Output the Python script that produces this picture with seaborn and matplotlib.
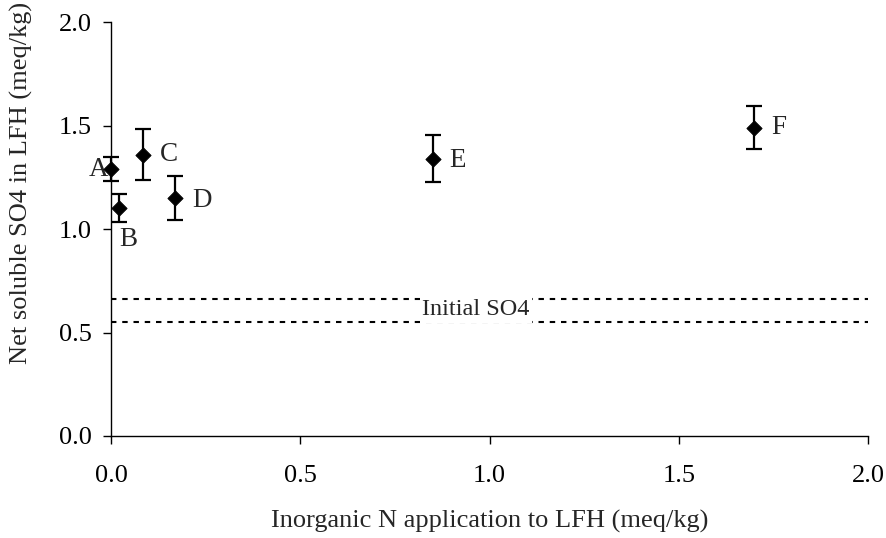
import matplotlib
matplotlib.use("Agg")
import matplotlib.pyplot as plt
import seaborn as sns
import pandas as pd

# Treatment data
labels = ["A", "B", "C", "D", "E", "F"]
n_applied = [0.0, 0.02, 0.085, 0.17, 0.85, 1.70]
so4 = [1.29, 1.10, 1.36, 1.15, 1.34, 1.49]
so4_err = [0.06, 0.067, 0.125, 0.105, 0.115, 0.105]
initial_so4 = [0.55, 0.66]

x_ticks = [0.0, 0.5, 1.0, 1.5, 2.0]
y_ticks = [0.0, 0.5, 1.0, 1.5, 2.0]

df = pd.DataFrame({"label": labels, "n": n_applied, "so4": so4, "err": so4_err})

sns.set_style("ticks")
plt.rcParams["font.family"] = ["Liberation Serif", "DejaVu Serif"]

fig = plt.figure(figsize=(8.86, 5.38), dpi=100)
ax = fig.add_axes([0.1253, 0.1896, 0.8544, 0.7694])

# Initial SO4 range
for yv in initial_so4:
    ax.axhline(yv, color="black", lw=1.5, ls=(0, (2.6, 2.8)), zorder=1)
ax.text(0.964, 0.612, "Initial SO4", ha="center", va="center", fontsize=17.5,
        bbox=dict(facecolor="white", edgecolor="none", pad=2.0), zorder=2)

ax.errorbar(df["n"], df["so4"], yerr=df["err"], fmt="none", ecolor="black",
            elinewidth=1.6, capsize=5.5, capthick=1.6, zorder=3, clip_on=False)
sns.scatterplot(data=df, x="n", y="so4", marker="D", s=60, color="black",
                edgecolor="black", ax=ax, zorder=4, clip_on=False, legend=False)

# Point labels: (dx, dy, horizontal alignment)
offsets = {"A": (-0.034, 0.0, "center"),
           "B": (0.027, -0.153, "center"),
           "C": (0.045, 0.0, "left"),
           "D": (0.045, -0.01, "left"),
           "E": (0.045, -0.01, "left"),
           "F": (0.045, 0.0, "left")}
for lab, xv, yv in zip(labels, n_applied, so4):
    dx, dy, ha = offsets[lab]
    ax.text(xv + dx, yv + dy, lab, ha=ha, va="center", fontsize=19.5)

ax.set_xlim(0, 2.0)
ax.set_ylim(0, 2.0)
ax.set_xticks(x_ticks)
ax.set_yticks(y_ticks)
ax.set_xticklabels([f"{v:.1f}" for v in x_ticks])
ax.set_yticklabels([f"{v:.1f}" for v in y_ticks])
ax.tick_params(direction="out", length=6, width=1.0, labelsize=19, colors="black")
ax.tick_params(axis="x", pad=15)
ax.tick_params(axis="y", pad=8)
for side in ["left", "bottom"]:
    ax.spines[side].set_linewidth(1.0)
    ax.spines[side].set_color("black")
sns.despine(ax=ax)
ax.set_xlabel("")
ax.set_ylabel("")

fig.text(0.5525, 0.0195, "Inorganic N application to LFH (meq/kg)",
         ha="center", va="baseline", fontsize=19)
fig.text(0.0243, 0.66, "Net soluble SO4 in LFH (meq/kg)", rotation=90,
         ha="center", va="center", fontsize=19)

fig.savefig("out.png", dpi=100)
